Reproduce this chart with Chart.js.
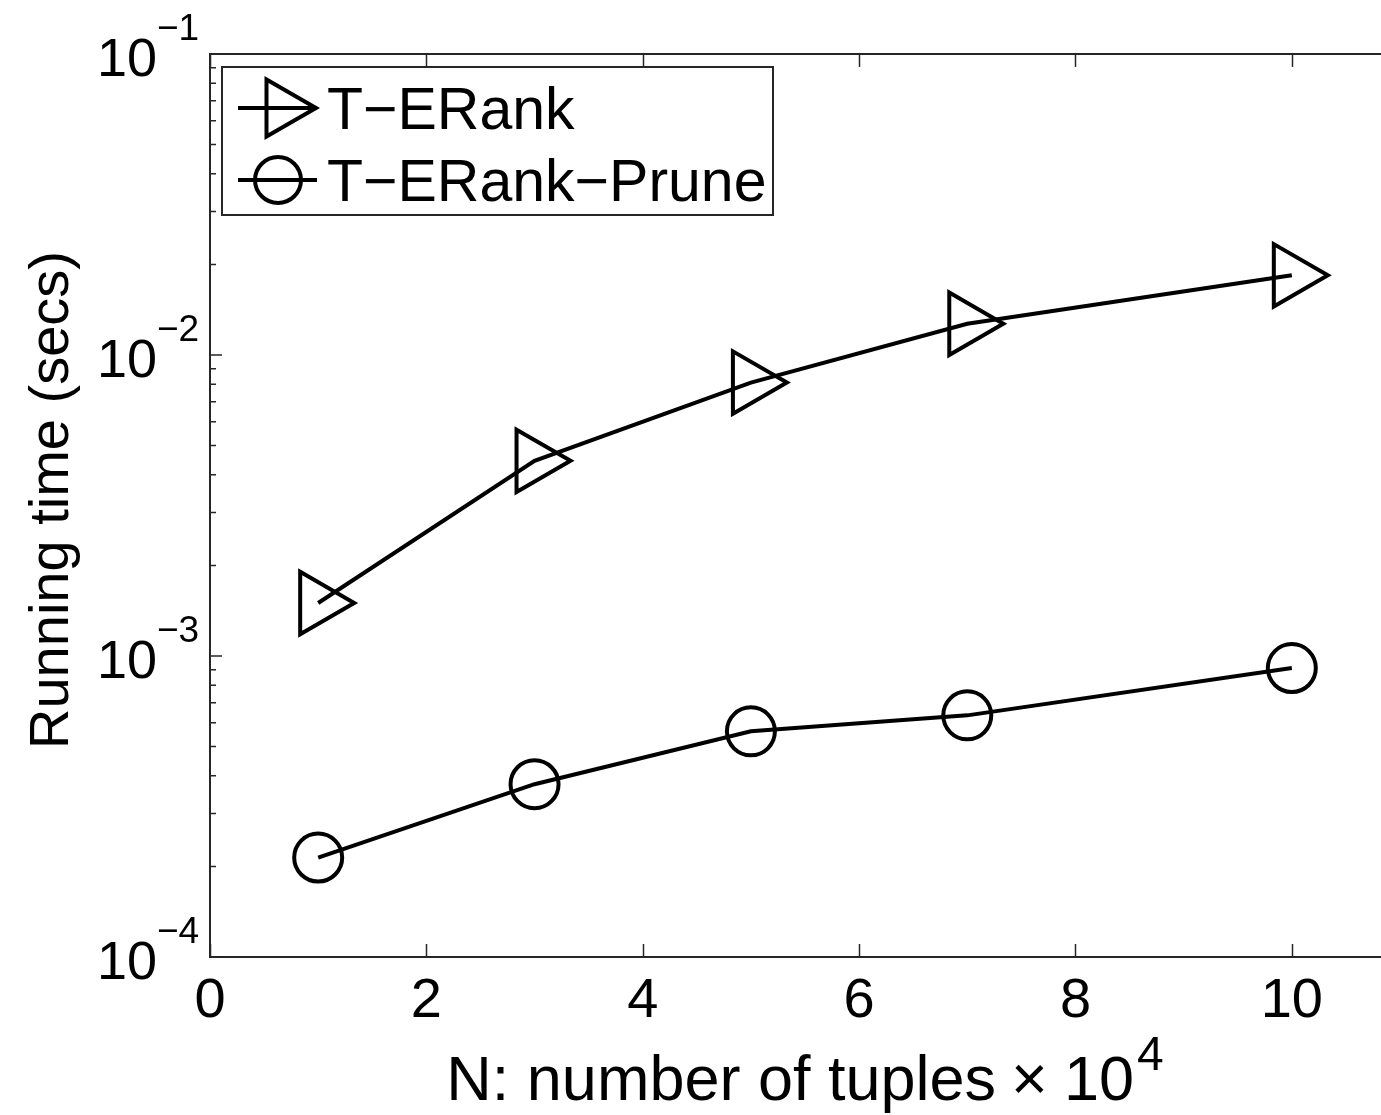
<!DOCTYPE html>
<html>
<head>
<meta charset="utf-8">
<script src="https://cdn.jsdelivr.net/npm/chart.js@4.4.1/dist/chart.umd.min.js"></script>
<style>
  html, body { margin: 0; padding: 0; background: #fff; overflow: hidden; }
  #wrap { width: 1402px; height: 1115px; }
</style>
</head>
<body>
<div id="wrap"><canvas id="runtimeChart" width="1402" height="1115"></canvas></div>
<script>
// values
const nTuples = [1, 3, 5, 7, 10];
const tErank = [0.0015, 0.00445, 0.0081, 0.0127, 0.0184];
const tErankPrune = [0.000214, 0.000375, 0.000562, 0.000635, 0.000912];
const seriesNames = ["T\u2212ERank", "T\u2212ERank\u2212Prune"];
const xTicks = [0, 2, 4, 6, 8, 10];
const yExponents = [-4, -3, -2, -1];

const FONT = "'Liberation Sans', Arial, Helvetica, sans-serif";
const INK = "#000";
const AXIS = "#262626";

function toPoints(xs, ys) {
  return xs.map((x, i) => ({ x: x, y: ys[i] }));
}

// axes box, inside ticks, log labels, titles and legend (MATLAB look)
const matlabFrame = {
  id: "matlabFrame",
  afterDraw(chart) {
    const ctx = chart.ctx;
    const area = chart.chartArea;
    const xs = chart.scales.x;
    const ys = chart.scales.y;
    ctx.save();

    // box
    ctx.strokeStyle = AXIS;
    ctx.lineWidth = 2;
    ctx.strokeRect(area.left, area.top, area.right - area.left, area.bottom - area.top);

    // x ticks (bottom and top, inside)
    ctx.beginPath();
    xTicks.forEach(v => {
      const px = Math.round(xs.getPixelForValue(v)) + 0.5;
      ctx.moveTo(px, area.bottom); ctx.lineTo(px, area.bottom - 13);
      ctx.moveTo(px, area.top); ctx.lineTo(px, area.top + 13);
    });
    ctx.lineWidth = 1.5;
    ctx.stroke();

    // y ticks: majors at decades, minors at 2..9
    ctx.beginPath();
    yExponents.forEach(e => {
      const major = Math.pow(10, e);
      const py = ys.getPixelForValue(major);
      ctx.moveTo(area.left, py); ctx.lineTo(area.left + 12, py);
      ctx.moveTo(area.right, py); ctx.lineTo(area.right - 12, py);
      if (e < yExponents[yExponents.length - 1]) {
        for (let m = 2; m <= 9; m++) {
          const my = ys.getPixelForValue(m * major);
          ctx.moveTo(area.left, my); ctx.lineTo(area.left + 6, my);
          ctx.moveTo(area.right, my); ctx.lineTo(area.right - 6, my);
        }
      }
    });
    ctx.stroke();

    // y tick labels 10^e
    ctx.fillStyle = INK;
    ctx.textBaseline = "alphabetic";
    yExponents.forEach(e => {
      const py = ys.getPixelForValue(Math.pow(10, e));
      ctx.font = "54px " + FONT;
      ctx.textAlign = "right";
      ctx.fillText("10", 157, py + 22);
      ctx.font = "37px " + FONT;
      ctx.textAlign = "left";
      ctx.fillText("\u2212" + Math.abs(e), 157, py - 14);
    });

    // y title
    ctx.save();
    ctx.translate(68, 500);
    ctx.rotate(-Math.PI / 2);
    ctx.font = "56px " + FONT;
    ctx.textAlign = "center";
    ctx.fillText("Running time (secs)", 0, 0);
    ctx.restore();

    // x title with superscript
    const main = "N: number of tuples";
    ctx.font = "63px " + FONT;
    const wMain = ctx.measureText(main).width;
    const wTimes = ctx.measureText("\u00d7").width;
    const wTen = ctx.measureText("10").width;
    ctx.font = "48px " + FONT;
    const wSup = ctx.measureText("4").width;
    const total = wMain + 15 + wTimes + 16 + wTen + 3 + wSup;
    let tx = (area.left + area.right) / 2 - total / 2;
    const base = 1100;
    ctx.textAlign = "left";
    ctx.font = "63px " + FONT;
    ctx.fillText(main, tx, base);
    tx += wMain + 15;
    ctx.fillText("\u00d7", tx, base);
    tx += wTimes + 16;
    ctx.fillText("10", tx, base);
    tx += wTen + 3;
    ctx.font = "48px " + FONT;
    ctx.fillText("4", tx, base - 30);

    // legend
    const lx = 222, ly = 67, lw = 551, lh = 148;
    ctx.fillStyle = "#fff";
    ctx.fillRect(lx, ly, lw, lh);
    ctx.strokeStyle = AXIS;
    ctx.lineWidth = 2;
    ctx.strokeRect(lx, ly, lw, lh);
    const rows = [108, 180];
    ctx.strokeStyle = INK;
    ctx.lineWidth = 4;
    rows.forEach((ry, i) => {
      ctx.beginPath();
      ctx.moveTo(238, ry); ctx.lineTo(317, ry);
      ctx.stroke();
      ctx.beginPath();
      if (i === 0) {
        const r = 33, cx = 283;
        ctx.moveTo(cx + r, ry);
        ctx.lineTo(cx - r / 2, ry - r * Math.sqrt(3) / 2);
        ctx.lineTo(cx - r / 2, ry + r * Math.sqrt(3) / 2);
        ctx.closePath();
      } else {
        ctx.arc(278, ry, 23, 0, Math.PI * 2);
      }
      ctx.stroke();
      ctx.fillStyle = INK;
      ctx.font = "59px " + FONT;
      ctx.textAlign = "left";
      ctx.fillText(seriesNames[i], 327, ry + 21);
    });

    ctx.restore();
  }
};

const chart = new Chart(document.getElementById("runtimeChart"), {
  type: "scatter",
  data: {
    datasets: [
      {
        label: seriesNames[0],
        data: toPoints(nTuples, tErank),
        showLine: true,
        borderColor: INK,
        borderWidth: 4,
        pointStyle: "triangle",
        rotation: 90,
        pointRadius: 36,
        pointBorderWidth: 4,
        pointBackgroundColor: "rgba(0,0,0,0)",
        pointBorderColor: INK
      },
      {
        label: seriesNames[1],
        data: toPoints(nTuples, tErankPrune),
        showLine: true,
        borderColor: INK,
        borderWidth: 4,
        pointStyle: "circle",
        pointRadius: 24,
        pointBorderWidth: 4,
        pointBackgroundColor: "rgba(0,0,0,0)",
        pointBorderColor: INK
      }
    ]
  },
  options: {
    responsive: false,
    animation: false,
    devicePixelRatio: 1,
    layout: { autoPadding: false, padding: { top: 54, right: 2, left: 0, bottom: 0 } },
    plugins: {
      legend: { display: false },
      tooltip: { enabled: false }
    },
    scales: {
      x: {
        type: "linear",
        min: 0,
        max: 11,
        grid: { display: false, drawTicks: false },
        border: { display: false },
        afterBuildTicks: axis => { axis.ticks = xTicks.map(v => ({ value: v })); },
        afterFit: axis => {
          axis.height = 158;
          axis.paddingLeft = 0;
          axis.paddingRight = 0;
        },
        ticks: {
          color: INK,
          padding: 11,
          maxRotation: 0,
          font: { family: FONT, size: 56 }
        }
      },
      y: {
        type: "logarithmic",
        min: 1e-4,
        max: 1e-1,
        grid: { display: false, drawTicks: false },
        border: { display: false },
        ticks: { display: false },
        afterFit: axis => {
          axis.width = 210;
          axis.paddingTop = 0;
          axis.paddingBottom = 0;
        }
      }
    }
  },
  plugins: [matlabFrame]
});
</script>
</body>
</html>
